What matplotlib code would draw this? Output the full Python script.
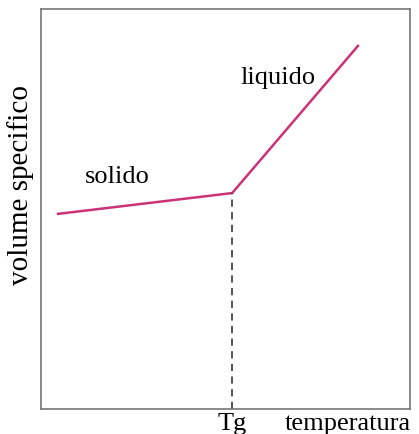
import matplotlib
matplotlib.use("Agg")
import matplotlib.pyplot as plt

plt.rcParams['font.family'] = ['Liberation Serif', 'DejaVu Serif']

# curve points: solid branch, glass transition, liquid branch
temp = [0.46, 5.18, 8.59]
vol = [4.88, 5.40, 9.08]
tg = 5.18
tick_pos = [5.18, 8.3]
tick_labels = ['Tg', 'temperatura']

fig = plt.figure(figsize=(4.19, 4.34), dpi=100)
ax = fig.add_axes([0.098, 0.0576, 0.8805, 0.9214])

ax.plot(temp, vol, color='#cc3377', lw=1.8, solid_joinstyle='miter')
ax.plot([tg, tg], [0, vol[1]], color='#444444', lw=1.3, ls=(0, (4, 3)))

ax.text(2.06, 5.8, 'solido', fontsize=19, ha='center', va='center')
ax.text(6.42, 8.28, 'liquido', fontsize=19, ha='center', va='center')

ax.set_xlim(0, 10)
ax.set_ylim(0, 10)
ax.set_xticks(tick_pos)
ax.set_xticklabels(tick_labels, fontsize=19)
ax.tick_params(axis='x', length=0, pad=3)
ax.set_yticks([])
ax.set_ylabel('volume specifico', fontsize=21)
ax.yaxis.set_label_coords(-0.018, 0.56)

for s in ax.spines.values():
    s.set_color('#777777')
    s.set_linewidth(1.2)

fig.savefig('out.png', dpi=100)
